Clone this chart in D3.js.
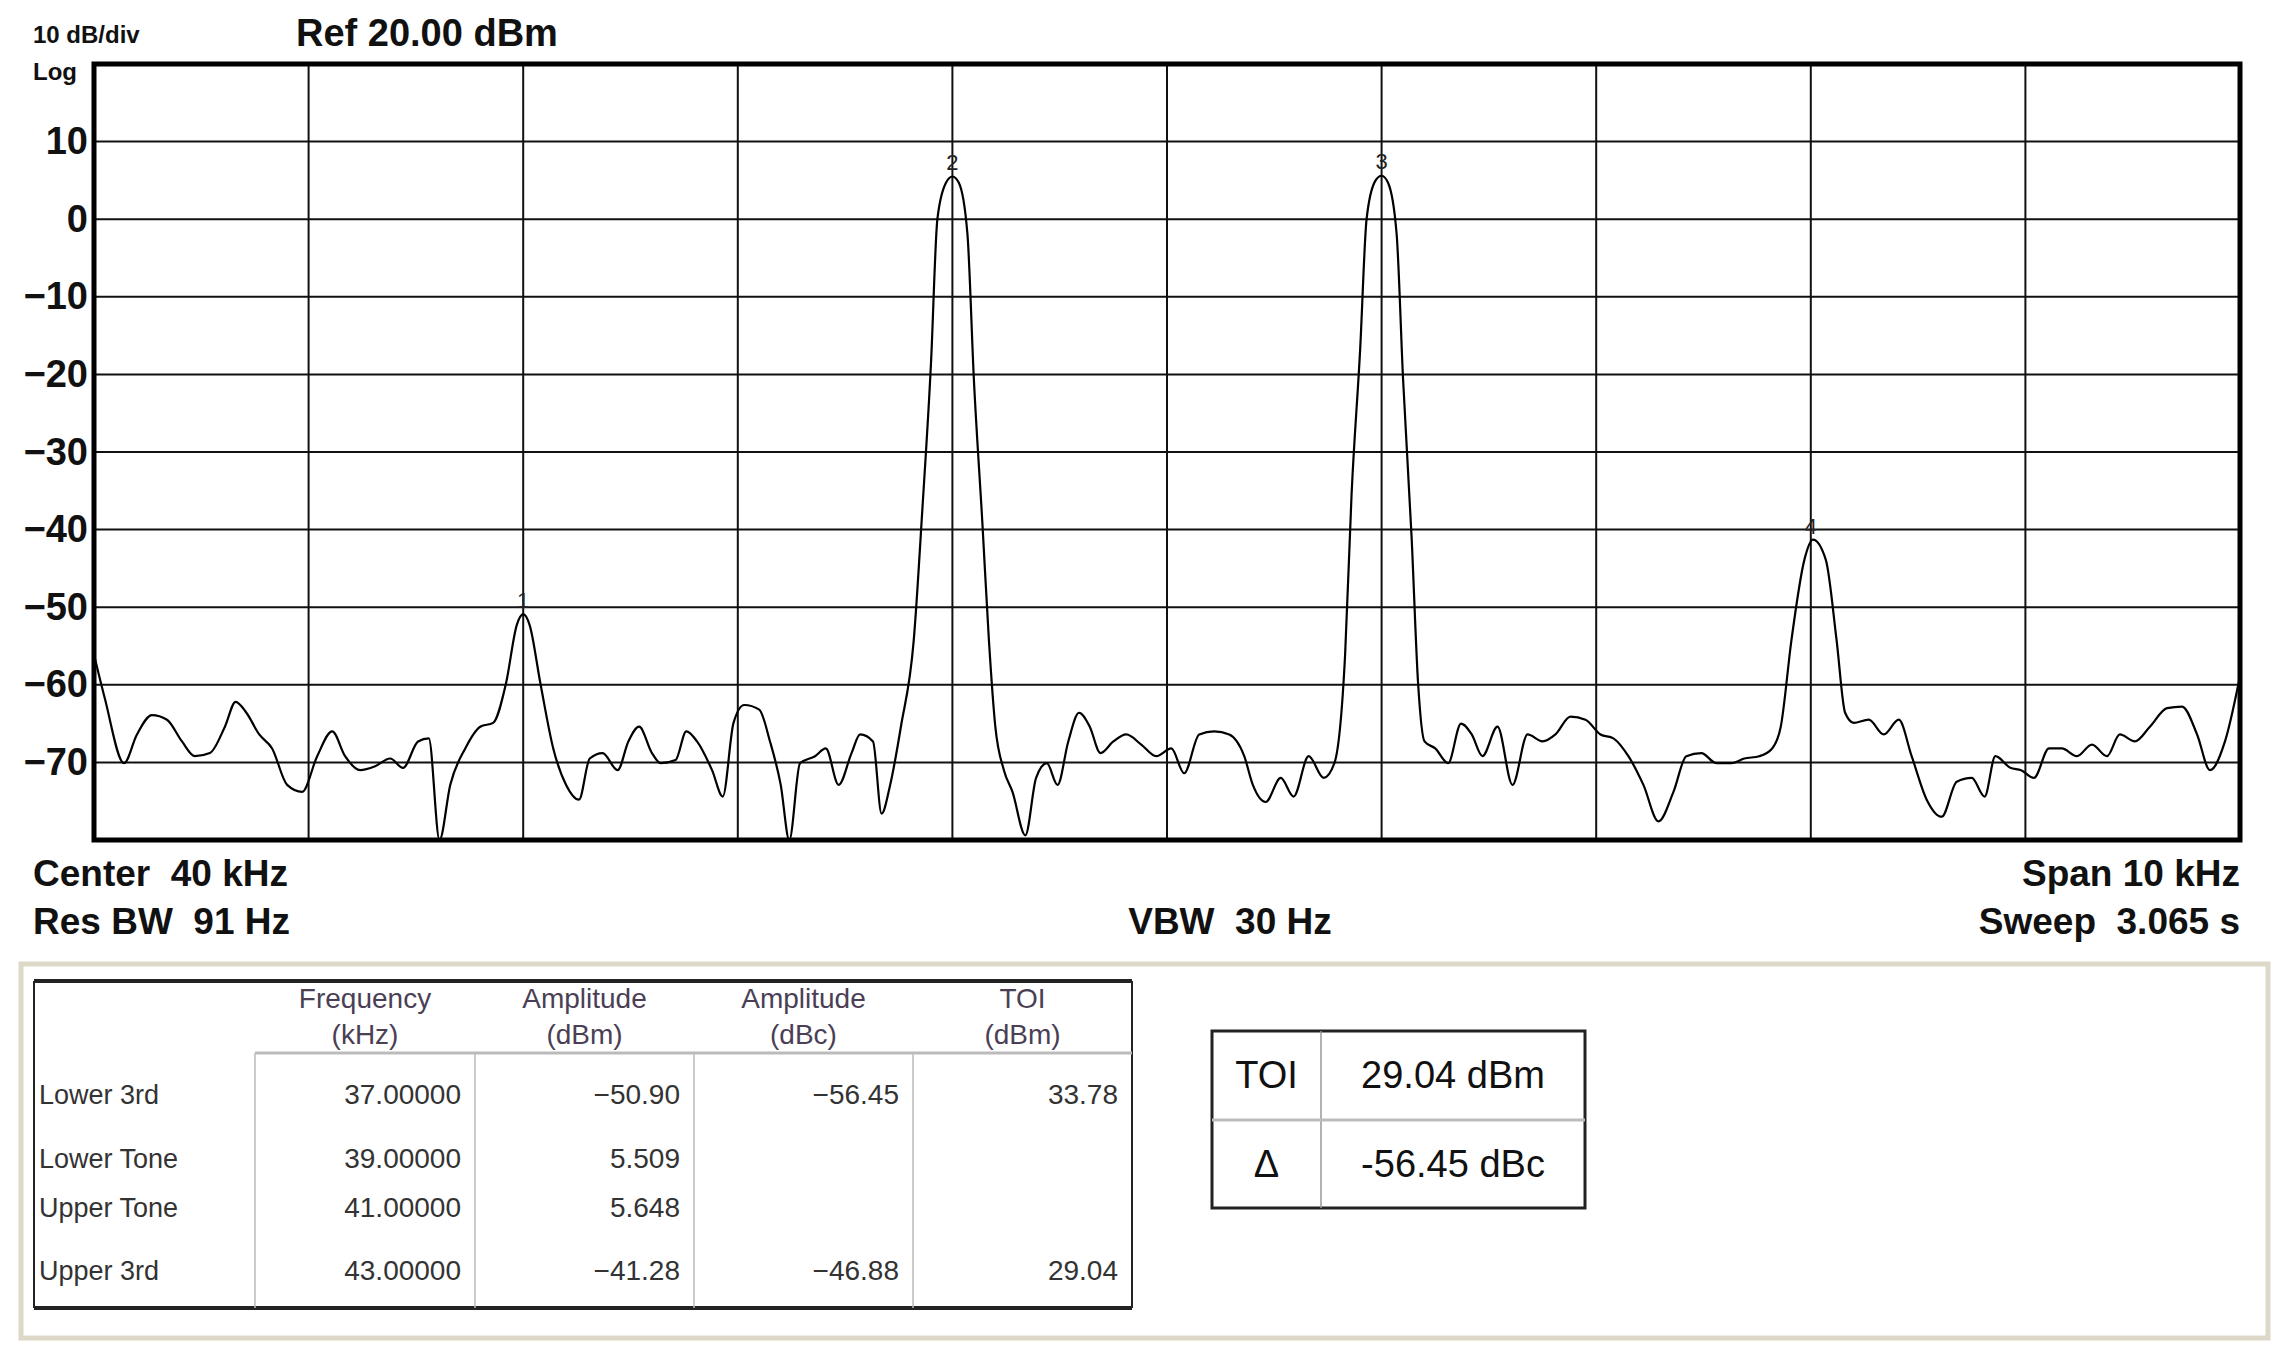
<!DOCTYPE html>
<html>
<head>
<meta charset="utf-8">
<script src="https://cdn.jsdelivr.net/npm/d3@7"></script>
<style>
  body { margin: 0; background: #fff; }
  svg { display: block; font-family: "Liberation Sans", Arial, sans-serif; }
  text { white-space: pre; }
</style>
</head>
<body>
<svg id="chart" width="2276" height="1355"></svg>
<script>
// trace: frequency (kHz) and level (dBm)
const freq = [35.00,35.05,35.14,35.20,35.27,35.34,35.41,35.47,35.54,35.61,35.66,35.71,35.77,35.83,35.90,35.97,36.04,36.11,36.17,36.24,36.31,36.38,36.44,36.51,36.56,36.61,36.66,36.73,36.80,36.86,36.92,36.97,37.00,37.03,37.08,37.14,37.20,37.26,37.31,37.37,37.44,37.49,37.54,37.60,37.64,37.71,37.76,37.81,37.88,37.93,37.98,38.03,38.10,38.15,38.20,38.24,38.29,38.36,38.41,38.47,38.53,38.57,38.63,38.67,38.71,38.76,38.82,38.86,38.90,38.93,38.97,39.00,39.03,39.07,39.10,39.14,39.17,39.20,39.24,39.28,39.34,39.39,39.44,39.49,39.54,39.59,39.64,39.69,39.75,39.81,39.88,39.95,40.02,40.08,40.15,40.22,40.29,40.36,40.40,40.46,40.53,40.59,40.66,40.73,40.78,40.83,40.86,40.90,40.93,40.97,41.00,41.03,41.07,41.10,41.14,41.17,41.20,41.25,41.31,41.37,41.42,41.47,41.54,41.61,41.68,41.75,41.81,41.88,41.95,42.02,42.08,42.15,42.22,42.29,42.36,42.42,42.49,42.56,42.63,42.69,42.76,42.82,42.86,42.91,42.97,43.01,43.07,43.12,43.16,43.20,43.27,43.34,43.41,43.47,43.54,43.61,43.68,43.75,43.81,43.86,43.93,43.98,44.04,44.11,44.17,44.24,44.31,44.38,44.44,44.51,44.58,44.66,44.73,44.80,44.86,44.93,45.00];
const level = [-56.1,-61.7,-70.1,-66.4,-63.9,-64.5,-67.3,-69.2,-68.8,-65.4,-62.2,-63.6,-66.4,-68.2,-72.9,-73.8,-69.2,-66.0,-69.2,-71.0,-70.5,-69.5,-70.7,-67.3,-66.9,-80,-72.9,-68.2,-65.4,-64.9,-59.8,-52.3,-50.9,-52.3,-59.8,-68.2,-72.9,-74.8,-69.5,-68.8,-71.0,-67.3,-65.4,-68.8,-70.1,-69.7,-66.0,-67.3,-71.0,-74.4,-64.9,-62.6,-63.2,-67.3,-72.9,-80,-70.1,-69.2,-68.2,-72.9,-68.8,-66.4,-67.3,-76.6,-72.9,-65.4,-54.2,-37.4,-18.7,0,4.7,5.5,4.7,-1.9,-20.6,-39.3,-54.2,-65.4,-71.0,-73.8,-79.4,-72.0,-70.1,-72.9,-67.3,-63.6,-65.4,-68.8,-67.3,-66.4,-67.7,-69.2,-68.2,-71.4,-66.4,-66.0,-66.4,-69.2,-72.9,-75.1,-72.0,-74.4,-69.2,-72.0,-70.1,-56.1,-35.5,-16.8,0,4.9,5.6,4.7,-1.9,-20.6,-41.1,-59.8,-67.3,-68.2,-70.1,-65.0,-66.4,-69.2,-65.4,-72.9,-66.4,-67.3,-66.4,-64.1,-64.5,-66.4,-66.9,-69.2,-72.9,-77.6,-73.8,-69.2,-68.8,-70.1,-70.1,-69.5,-69.2,-68.2,-65.4,-54.2,-43.9,-41.3,-43.9,-54.2,-63.6,-64.9,-64.5,-66.4,-64.5,-69.2,-74.8,-77.0,-72.5,-72.0,-74.4,-69.2,-70.7,-71.0,-72.0,-68.2,-68.2,-69.2,-67.7,-69.2,-66.4,-67.3,-65.4,-63.0,-62.8,-66.4,-71.0,-67.3,-58.9];

const markerLabels = ["1", "2", "3", "4"];
const markerFreq = [37, 39, 41, 43];
const markerLevel = [-50.90, 5.509, 5.648, -41.28];

const yTicks = [10, 0, -10, -20, -30, -40, -50, -60, -70];

const tableHeads = [["Frequency", "(kHz)"], ["Amplitude", "(dBm)"], ["Amplitude", "(dBc)"], ["TOI", "(dBm)"]];
const rowNames = ["Lower 3rd", "Lower Tone", "Upper Tone", "Upper 3rd"];
const rowFreq = ["37.00000", "39.00000", "41.00000", "43.00000"];
const rowAmp = ["\u221250.90", "5.509", "5.648", "\u221241.28"];
const rowDbc = ["\u221256.45", "", "", "\u221246.88"];
const rowToi = ["33.78", "", "", "29.04"];
const summaryNames = ["TOI", "\u0394"];
const summaryValues = ["29.04 dBm", "-56.45 dBc"];

const svg = d3.select("#chart");
const plot = { left: 94, right: 2240, top: 64, bottom: 840 };

const x = d3.scaleLinear().domain([35, 45]).range([plot.left, plot.right]);
const y = d3.scaleLinear().domain([-80, 20]).range([plot.bottom, plot.top]);

// grid
const g = svg.append("g");
g.selectAll(".vg").data(d3.range(36, 45)).enter().append("line")
  .attr("x1", d => x(d)).attr("x2", d => x(d))
  .attr("y1", plot.top).attr("y2", plot.bottom)
  .attr("stroke", "#111").attr("stroke-width", 2);
g.selectAll(".hg").data(d3.range(-70, 20, 10)).enter().append("line")
  .attr("x1", plot.left).attr("x2", plot.right)
  .attr("y1", d => y(d)).attr("y2", d => y(d))
  .attr("stroke", "#111").attr("stroke-width", 2);

// y axis labels
const yAxis = svg.append("g")
  .attr("transform", `translate(${plot.left - 4},0)`)
  .call(d3.axisLeft(y).tickValues(yTicks).tickSize(0).tickPadding(2));
yAxis.select(".domain").remove();
yAxis.selectAll("text")
  .attr("font-size", 38).attr("font-weight", "bold")
  .attr("font-family", "'Liberation Sans', Arial, sans-serif").attr("fill", "#111");

// trace
svg.append("clipPath").attr("id", "clip").append("rect")
  .attr("x", plot.left).attr("y", plot.top)
  .attr("width", plot.right - plot.left).attr("height", plot.bottom - plot.top);
const line = d3.line().x((d, i) => x(freq[i])).y(d => y(d)).curve(d3.curveMonotoneX);
svg.append("path").datum(level)
  .attr("clip-path", "url(#clip)")
  .attr("d", line).attr("fill", "none")
  .attr("stroke", "#000").attr("stroke-width", 2.2);

// markers
svg.selectAll(".mk").data(markerLabels).enter().append("text")
  .attr("x", (d, i) => x(markerFreq[i]))
  .attr("y", (d, i) => y(markerLevel[i]) - 6)
  .attr("text-anchor", "middle").attr("font-size", 22).attr("fill", "#222")
  .text(d => d);

// frame
svg.append("rect")
  .attr("x", plot.left).attr("y", plot.top)
  .attr("width", plot.right - plot.left).attr("height", plot.bottom - plot.top)
  .attr("fill", "none").attr("stroke", "#000").attr("stroke-width", 5);

// annotations
const bold = (t, px, py, size, anchor) => svg.append("text")
  .attr("x", px).attr("y", py).attr("font-size", size).attr("font-weight", "bold")
  .attr("text-anchor", anchor || "start").attr("fill", "#111").text(t);
bold("10 dB/div", 33, 43, 24);
bold("Log", 33, 80, 24);
bold("Ref 20.00 dBm", 296, 46, 38);
bold("Center  40 kHz", 33, 886, 37);
bold("Res BW  91 Hz", 33, 934, 37);
bold("VBW  30 Hz", 1230, 934, 37, "middle");
bold("Span 10 kHz", 2240, 886, 37, "end");
bold("Sweep  3.065 s", 2240, 934, 37, "end");

// results panel
svg.append("rect").attr("x", 21).attr("y", 964).attr("width", 2247).attr("height", 374)
  .attr("fill", "#fff").attr("stroke", "#ddd8c8").attr("stroke-width", 5);

const t = { left: 34, right: 1132, top: 981, head: 1053, bottom: 1308 };
const colEdges = [255, 475, 694, 913, 1132];
const rowY = [1104, 1168, 1217, 1280];
const tb = svg.append("g");
tb.append("line").attr("x1", t.left).attr("x2", t.right).attr("y1", t.top).attr("y2", t.top)
  .attr("stroke", "#222").attr("stroke-width", 4);
tb.append("line").attr("x1", t.left).attr("x2", t.right).attr("y1", t.bottom).attr("y2", t.bottom)
  .attr("stroke", "#222").attr("stroke-width", 4);
tb.append("line").attr("x1", t.left).attr("x2", t.left).attr("y1", t.top).attr("y2", t.bottom)
  .attr("stroke", "#222").attr("stroke-width", 2);
tb.append("line").attr("x1", t.right).attr("x2", t.right).attr("y1", t.top).attr("y2", t.bottom)
  .attr("stroke", "#222").attr("stroke-width", 2);
tb.append("line").attr("x1", colEdges[0]).attr("x2", t.right).attr("y1", t.head).attr("y2", t.head)
  .attr("stroke", "#bbb").attr("stroke-width", 3);
tb.selectAll(".cv").data(colEdges.slice(0, 4)).enter().append("line")
  .attr("x1", d => d).attr("x2", d => d).attr("y1", t.head).attr("y2", t.bottom)
  .attr("stroke", "#bbb").attr("stroke-width", 1.5);

tableHeads.forEach((h, i) => {
  const cx = (colEdges[i] + colEdges[i + 1]) / 2;
  h.forEach((s, j) => tb.append("text").attr("x", cx).attr("y", 1008 + j * 36)
    .attr("text-anchor", "middle").attr("font-size", 28).attr("fill", "#4a3f55").text(s));
});
const cols = [rowFreq, rowAmp, rowDbc, rowToi];
rowNames.forEach((n, r) => {
  tb.append("text").attr("x", 39).attr("y", rowY[r]).attr("font-size", 27).attr("fill", "#333").text(n);
  cols.forEach((c, i) => tb.append("text").attr("x", colEdges[i + 1] - 14).attr("y", rowY[r])
    .attr("text-anchor", "end").attr("font-size", 28).attr("fill", "#333").text(c[r]));
});

// summary box
const s = { left: 1212, mid: 1321, right: 1585, top: 1031, cut: 1120, bottom: 1208 };
const sb = svg.append("g");
sb.append("rect").attr("x", s.left).attr("y", s.top).attr("width", s.right - s.left)
  .attr("height", s.bottom - s.top).attr("fill", "none").attr("stroke", "#222").attr("stroke-width", 3);
sb.append("line").attr("x1", s.mid).attr("x2", s.mid).attr("y1", s.top).attr("y2", s.bottom)
  .attr("stroke", "#999").attr("stroke-width", 1.5);
sb.append("line").attr("x1", s.left).attr("x2", s.right).attr("y1", s.cut).attr("y2", s.cut)
  .attr("stroke", "#bbb").attr("stroke-width", 3);
summaryNames.forEach((n, i) => {
  const cy = i === 0 ? 1088 : 1177;
  sb.append("text").attr("x", (s.left + s.mid) / 2).attr("y", cy).attr("text-anchor", "middle")
    .attr("font-size", 38).attr("fill", "#111").text(n);
  sb.append("text").attr("x", (s.mid + s.right) / 2).attr("y", cy).attr("text-anchor", "middle")
    .attr("font-size", 38).attr("fill", "#111").text(summaryValues[i]);
});
</script>
</body>
</html>
